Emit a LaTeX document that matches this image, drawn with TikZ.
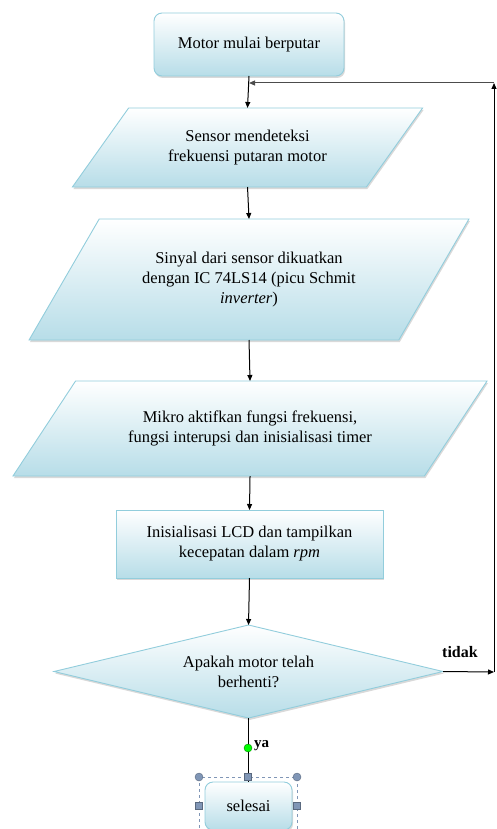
\documentclass[tikz,border=0pt]{standalone}
\usepackage{fontspec}
\setmainfont{Liberation Serif}
\usetikzlibrary{shapes.geometric,arrows.meta,shadows}
\definecolor{aqua}{RGB}{183,221,232}
\definecolor{aquaedge}{RGB}{146,205,220}
\definecolor{handle}{RGB}{128,150,182}
\begin{document}
\begin{tikzpicture}[x=1pt,y=-1pt,font=\fontsize{16.5}{20}\selectfont,
  box/.style={draw=aquaedge,line width=.9pt,top color=white,bottom color=aqua,
    drop shadow={shadow xshift=1pt,shadow yshift=-2pt,opacity=.3},
    align=center,inner sep=0pt,outer sep=0pt},
  term/.style={box,rounded corners=8pt},
  proc/.style={box,rectangle},
  io/.style={box,trapezium,trapezium stretches=true},
  ask/.style={box,diamond},
  flow/.style={line width=1pt,-{Triangle[length=6pt,width=5pt]}},
  knob/.style={fill=handle,draw=handle!70!black,line width=.4pt}]
\useasboundingbox (0,0) rectangle (497,829);
\clip (0,0) rectangle (497,829);
% shapes
\node[term,minimum width=190pt,minimum height=63pt] (start) at (249,44.5) {Motor mulai berputar};
\node[io,trapezium left angle=43,trapezium right angle=137,
  minimum width=351pt,minimum height=79pt] (sensor) at (247.5,147.5)
  {Sensor mendeteksi\\frekuensi putaran motor};
\node[io,trapezium left angle=47.7,trapezium right angle=132.3,
  minimum width=442pt,minimum height=121pt] (sinyal) at (249,279.5)
  {Sinyal dari sensor dikuatkan\\dengan IC 74LS14 (picu Schmit\\\textit{inverter})};
\node[io,trapezium left angle=38.8,trapezium right angle=141.2,
  minimum width=476pt,minimum height=95pt] (mikro) at (250,428.5)
  {Mikro aktifkan fungsi frekuensi,\\fungsi interupsi dan inisialisasi timer};
\node[proc,minimum width=267pt,minimum height=68pt] (lcd) at (249.5,544)
  {Inisialisasi LCD dan tampilkan\\kecepatan dalam \textit{rpm}};
\node[ask,aspect=4.15,minimum width=389pt,minimum height=93pt] (cek) at (248.5,671.5)
  {Apakah motor telah\\berhenti?};
\node[term,minimum width=87pt,minimum height=48pt] (selesai) at (248.5,806) {selesai};
% connectors
\coordinate (turn) at (494,672);
\coordinate (top) at (494,83);
\coordinate (join) at (start.south |- top);
\draw[flow] (start.south) -- (sensor.north);
\draw[flow] (sensor.south) -- (sinyal.north);
\draw[flow] (sinyal.south) -- (mikro.north);
\draw[flow] (mikro.south) -- (lcd.north);
\draw[flow] (lcd.south) -- (cek.north);
\draw[flow] (cek.east) -- (turn);
\draw[flow] (turn) -- (top);
\draw[flow,black!70] (top) -- (join);
\draw[line width=1pt] (cek.south) -- (selesai.north);
\node[font=\fontsize{16}{18}\bfseries\selectfont] (tidak) at (460,652) {tidak};
\node[font=\fontsize{15}{18}\bfseries\selectfont] (ya) at (261.5,746) {ya};
% selection frame
\draw[handle,dashed,line width=.8pt] (199,777) rectangle (297,835);
\fill[green,draw=green!50!black,line width=.4pt] (248,748) circle (4);
\foreach \x in {199,297}{\draw[knob] (\x,777) circle (4);
  \draw[knob] (\x-3.5,802.5) rectangle (\x+3.5,809.5);}
\draw[knob] (244.5,773.5) rectangle (251.5,780.5);
\end{tikzpicture}
\end{document}
